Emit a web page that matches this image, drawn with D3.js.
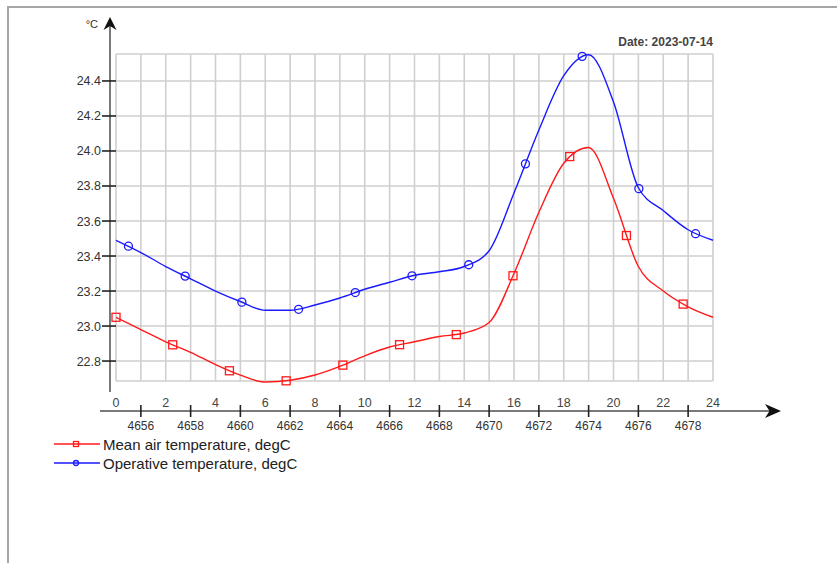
<!DOCTYPE html>
<html>
<head>
<meta charset="utf-8">
<script src="https://cdn.jsdelivr.net/npm/d3@7"></script>
<style>
  body { margin: 0; background: #fff; }
  svg { display: block; font-family: "Liberation Sans", Arial, sans-serif; }
</style>
</head>
<body>
<div id="chart"></div>
<script>
'use strict';

// hour of day (top axis) and the matching step number (bottom axis)
const hours = [0, 1, 2, 3, 4, 5, 6, 7, 8, 9, 10, 11, 12, 13, 14, 15, 16, 17, 18, 19, 20, 21, 22, 23, 24];
const hourTicks = [0, 2, 4, 6, 8, 10, 12, 14, 16, 18, 20, 22, 24];
const stepTicks = [4656, 4658, 4660, 4662, 4664, 4666, 4668, 4670, 4672, 4674, 4676, 4678];
const yTicks = [22.8, 23.0, 23.2, 23.4, 23.6, 23.8, 24.0, 24.2, 24.4];

const meanAir = [23.05, 22.98, 22.91, 22.85, 22.78, 22.72, 22.68, 22.69, 22.72, 22.77, 22.83, 22.88, 22.91,
                 22.94, 22.96, 23.02, 23.30, 23.65, 23.93, 24.02, 23.73, 23.34, 23.20, 23.11, 23.05];
const operative = [23.49, 23.42, 23.34, 23.27, 23.20, 23.14, 23.09, 23.09, 23.12, 23.16, 23.21, 23.25, 23.29,
                   23.31, 23.34, 23.43, 23.76, 24.12, 24.43, 24.55, 24.28, 23.79, 23.66, 23.55, 23.49];

const series = [
    {name: 'Mean air temperature, degC', values: meanAir, color: '#ff1a1a', marker: 'square', offset: 0},
    {name: 'Operative temperature, degC', values: operative, color: '#1a1aff', marker: 'circle', offset: 0.5}
];

const W = 837, H = 563;
const MARKER_STEP = 2.28;

const svg = d3.select('#chart').append('svg').attr('width', W).attr('height', H);

const x = d3.scaleLinear().domain([0, 24]).range([116, 713]);
const xStep = d3.scaleLinear().domain([4655, 4679]).range([116, 713]);
const y = d3.scaleLinear().domain([22.686, 24.554]).range([381, 54]);

// outer frame (top and left edges only)
svg.append('path')
    .attr('d', 'M8,' + H + ' L8,7 L' + W + ',7')
    .attr('fill', 'none').attr('stroke', '#a6a6a6').attr('stroke-width', 2);

// grid
const grid = svg.append('g').attr('stroke', '#cfcfcf').attr('stroke-width', 1.6);
grid.selectAll('line.v').data(hours).enter().append('line')
    .attr('x1', d => x(d)).attr('x2', d => x(d))
    .attr('y1', y.range()[1]).attr('y2', y.range()[0]);
grid.selectAll('line.h').data(yTicks.concat(y.domain())).enter().append('line')
    .attr('x1', x(0)).attr('x2', x(24))
    .attr('y1', d => y(d)).attr('y2', d => y(d));

// y axis
svg.append('line').attr('x1', 110).attr('x2', 110).attr('y1', 24).attr('y2', 392)
    .attr('stroke', '#7a7a7a').attr('stroke-width', 2);
svg.append('path').attr('d', 'M110,17 L116.5,30 L110,26 L103.5,30 Z').attr('fill', '#111');
svg.append('text').attr('x', 98).attr('y', 28).attr('text-anchor', 'end')
    .attr('font-size', 11).attr('fill', '#333').text('°C');

const yt = svg.append('g');
yt.selectAll('line').data(yTicks).enter().append('line')
    .attr('x1', 102).attr('x2', 116).attr('y1', d => y(d)).attr('y2', d => y(d))
    .attr('stroke', '#222').attr('stroke-width', 1.6);
yt.selectAll('text').data(yTicks).enter().append('text')
    .attr('x', 101).attr('y', d => y(d) + 4.5).attr('text-anchor', 'end')
    .attr('font-size', 12.5).attr('fill', '#333')
    .text(d => d.toFixed(1));

// x axis
const AXIS_Y = 411;
svg.append('line').attr('x1', 100).attr('x2', 772).attr('y1', AXIS_Y).attr('y2', AXIS_Y)
    .attr('stroke', '#7a7a7a').attr('stroke-width', 2);
svg.append('path').attr('d', 'M781,411 L765,404 L769.5,411 L765,418 Z').attr('fill', '#111');

svg.append('g').selectAll('text').data(hourTicks).enter().append('text')
    .attr('x', d => x(d)).attr('y', AXIS_Y - 4).attr('text-anchor', 'middle')
    .attr('font-size', 12.5).attr('fill', '#444').text(d => d);

const xt = svg.append('g');
xt.selectAll('line').data(stepTicks).enter().append('line')
    .attr('x1', d => xStep(d)).attr('x2', d => xStep(d))
    .attr('y1', AXIS_Y - 6).attr('y2', AXIS_Y + 6)
    .attr('stroke', '#222').attr('stroke-width', 1.6);
xt.selectAll('text').data(stepTicks).enter().append('text')
    .attr('x', d => xStep(d)).attr('y', AXIS_Y + 19).attr('text-anchor', 'middle')
    .attr('font-size', 12).attr('fill', '#333').text(d => d);

// date label
svg.append('text').attr('x', 713).attr('y', 46).attr('text-anchor', 'end')
    .attr('font-size', 12).attr('font-weight', 'bold').attr('fill', '#444')
    .text('Date: 2023-07-14');

// series lines
const line = d3.line()
    .x((d, i) => x(hours[i]))
    .y(d => y(d))
    .curve(d3.curveMonotoneX);

/**
 * Finds the point of a path at a given x position (binary search on length).
 */
function pointAtX(node, px) {
    let lo = 0, hi = node.getTotalLength();
    for (let k = 0; k < 30; k++) {
        const mid = (lo + hi) / 2;
        if (node.getPointAtLength(mid).x < px) lo = mid; else hi = mid;
    }
    return node.getPointAtLength((lo + hi) / 2);
}

function drawMarker(g, type, cx, cy, color, size) {
    if (type === 'square') {
        g.append('rect')
            .attr('x', cx - size).attr('y', cy - size)
            .attr('width', size * 2).attr('height', size * 2)
            .attr('fill', 'none').attr('stroke', color).attr('stroke-width', 1.3);
    } else {
        g.append('circle').attr('cx', cx).attr('cy', cy).attr('r', size)
            .attr('fill', 'none').attr('stroke', color).attr('stroke-width', 1.3);
    }
}

series.forEach(s => {
    const path = svg.append('path')
        .datum(s.values)
        .attr('d', line)
        .attr('fill', 'none')
        .attr('stroke', s.color)
        .attr('stroke-width', 1.4);

    const g = svg.append('g');
    for (let h = s.offset; h <= 24; h += MARKER_STEP) {
        const p = pointAtX(path.node(), x(h));
        drawMarker(g, s.marker, p.x, p.y, s.color, 4);
    }
});

// legend
const legend = svg.append('g');
series.forEach((s, i) => {
    const ly = 444 + i * 19;
    legend.append('line').attr('x1', 54).attr('x2', 100).attr('y1', ly).attr('y2', ly)
        .attr('stroke', s.color).attr('stroke-width', 1.6);
    drawMarker(legend, s.marker, 76, ly, s.color, 2.5);
    legend.append('text').attr('x', 103).attr('y', ly + 5.5)
        .attr('font-size', 15).attr('fill', '#222').text(s.name);
});
</script>
</body>
</html>
